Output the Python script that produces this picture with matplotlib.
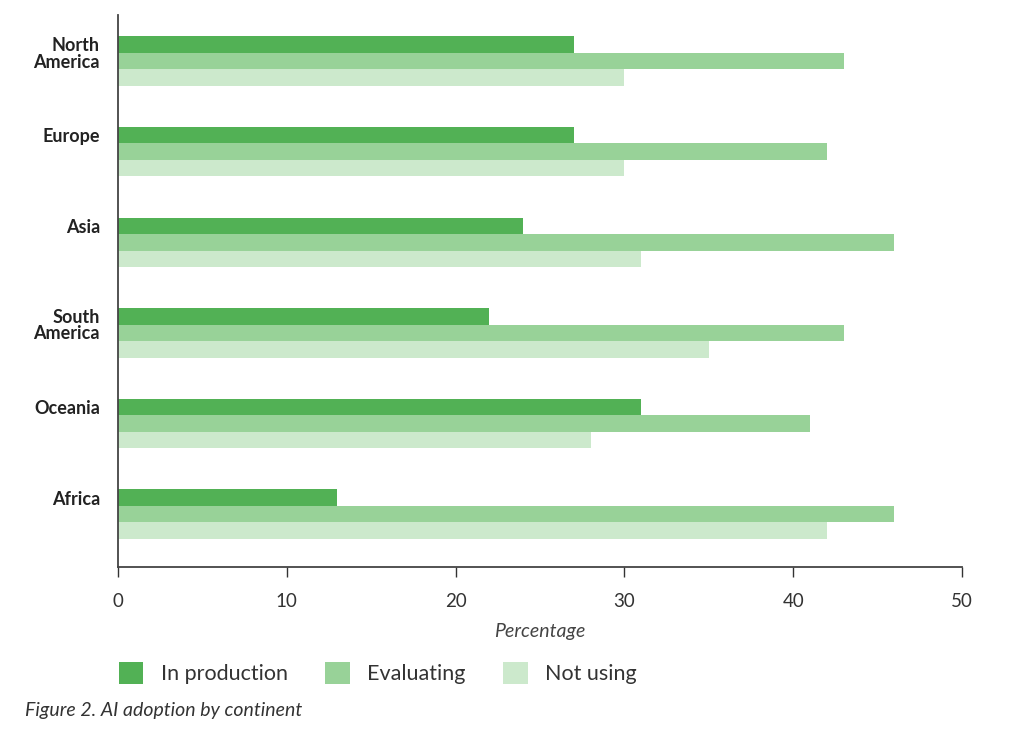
import numpy as np
import matplotlib
matplotlib.use("Agg")
import matplotlib.pyplot as plt
from matplotlib.patches import Patch

# Data
continents = ["North\nAmerica", "Europe", "Asia", "South\nAmerica", "Oceania", "Africa"]
in_production = [27, 27, 24, 22, 31, 13]
evaluating = [43, 42, 46, 43, 41, 46]
not_using = [30, 30, 31, 35, 28, 42]
series_names = ["In production", "Evaluating", "Not using"]
colors = ["#52b155", "#98d298", "#cce9cc"]

plt.rcParams['font.family'] = ['Lato', 'DejaVu Sans']

fig = plt.figure(figsize=(10.24, 7.34), dpi=100)
ax = fig.add_axes([0.1152, 0.2275, 0.8242, 0.7521])

y = np.arange(len(continents))
h = 0.182
for i, (vals, c) in enumerate(zip([in_production, evaluating, not_using], colors)):
    ax.barh(y + (i - 1) * h, vals, height=h, color=c, label=series_names[i])

ax.set_xlim(0, 50)
ax.set_ylim(5.585, -0.51)
ax.set_xticks([0, 10, 20, 30, 40, 50])

# labels sit level with the top bar (two-line ones a bit lower)
label_pos = [yy - (h / 2 if "\n" in name else h) for yy, name in zip(y, continents)]
ax.set_yticks(label_pos)
ax.set_yticklabels(continents, fontsize=13, fontweight='bold', color='#222222',
                   linespacing=0.95)
ax.tick_params(axis='y', length=0, pad=13)
ax.tick_params(axis='x', length=7, width=1, color='#333333', labelsize=13.5,
               labelcolor='#333333', pad=12)
for s in ['top', 'right']:
    ax.spines[s].set_visible(False)
for s in ['left', 'bottom']:
    ax.spines[s].set_color('#444444')
    ax.spines[s].set_linewidth(1.3)

ax.set_xlabel("Percentage", fontsize=14, style='italic', color='#444444', labelpad=9)

handles = [Patch(facecolor=c, edgecolor='none') for c in colors]
fig.legend(handles, series_names, loc='upper left', bbox_to_anchor=(0.097, 0.125),
           bbox_transform=fig.transFigure, ncol=3, frameon=False, fontsize=15.5,
           handlelength=1.15, handleheight=1.25, handletextpad=0.8, columnspacing=1.75,
           labelcolor='#333333')

fig.text(0.024, 0.02, "Figure 2. AI adoption by continent", fontsize=14, style='italic',
         color='#333333', ha='left', va='bottom')

fig.savefig("out.png", dpi=100)
